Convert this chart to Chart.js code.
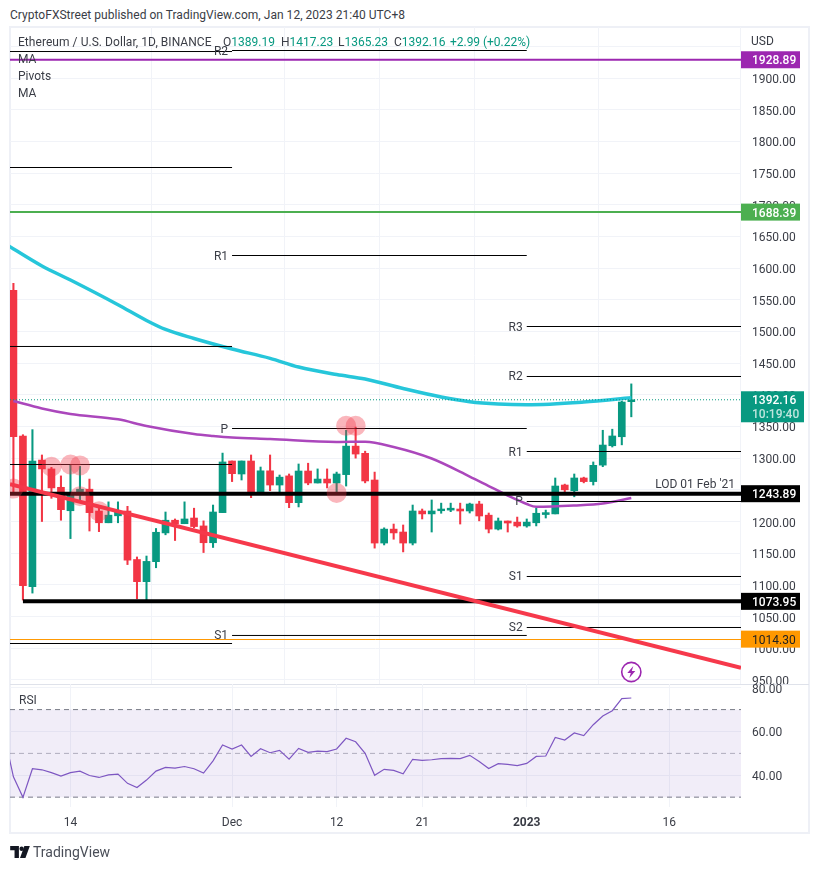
<!DOCTYPE html>
<html>
<head>
<meta charset="utf-8">
<title>ETH/USD</title>
<script src="https://cdn.jsdelivr.net/npm/chart.js@4/dist/chart.umd.js"></script>
<style>
  body { margin: 0; background: #fff; font-family: Roboto, sans-serif; color: #333; width: 819px; height: 870px; overflow: hidden; }
  canvas { position: absolute; left: 10px; }
  #priceChart { top: 27px; }
  #rsiChart { top: 670px; }
  #frame { position: absolute; left: 9px; top: 26px; width: 801px; height: 808px; box-sizing: border-box; border: 2px solid #eef0f6; }
  #paneSep { position: absolute; left: 10px; top: 684px; width: 799px; height: 1px; background: #dfe2ea; }
  .txt { position: absolute; white-space: pre; font-size: 12px; line-height: 14px; color: #3a3d46; }
  .up { color: #089981; }
</style>
</head>
<body>
<div id="frame"></div>
<canvas id="priceChart" width="800" height="673"></canvas>
<div id="paneSep"></div>
<canvas id="rsiChart" width="800" height="164"></canvas>

<div class="txt" style="left:10px;top:8px;letter-spacing:0.03px;">CryptoFXStreet published on TradingView.com, Jan 12, 2023 21:40 UTC+8</div>
<div class="txt" style="left:18px;top:35px;letter-spacing:0.05px;">Ethereum / U.S. Dollar, 1D, BINANCE</div>
<div class="txt" style="left:223px;top:35px;">O<span class="up">1389.19</span></div>
<div class="txt" style="left:281px;top:35px;">H<span class="up">1417.23</span></div>
<div class="txt" style="left:338px;top:35px;">L<span class="up">1365.23</span></div>
<div class="txt" style="left:394px;top:35px;">C<span class="up">1392.16</span></div>
<div class="txt up" style="left:450px;top:35px;letter-spacing:-0.03px;">+2.99 (+0.22%)</div>
<div class="txt" style="left:18px;top:52px;">MA</div>
<div class="txt" style="left:18px;top:69px;">Pivots</div>
<div class="txt" style="left:18px;top:86px;">MA</div>
<div class="txt" style="left:19px;top:693px;">RSI</div>
<div class="txt" style="left:751px;top:34px;">USD</div>
<svg style="position:absolute;left:10px;top:846px;" width="20" height="12" viewBox="0 0 36 22">
  <path fill="#131722" d="M0 0h16v22H8V8H0zM18 22l8-22h10l-8 22z"/>
  <circle fill="#131722" cx="21" cy="5" r="4"/>
</svg>
<div class="txt" style="left:33px;top:845px;font-size:14px;color:#4a4e58;">TradingView</div>

<script>
// Day numbers count from 8 Nov 2022 = 0
const opens  = [1565,1335,1097,1297,1283,1254,1217,1242,1251,1216.5,1198,1209,1216.5,1140,1105,1136.6,1182,1202,1196.5,1205.5,1193,1166.5,1214,1295.5,1275,1295.5,1244.5,1280,1257.6,1272,1229.7,1279.7,1260.8,1267,1260.8,1274,1319,1307.6,1265.5,1166,1188,1183.4,1166,1216.6,1212,1217,1218,1219.7,1216.6,1227.6,1210,1188,1200.8,1199,1193,1198,1211,1212,1257.6,1248.6,1268.7,1263,1289,1319.6,1333.8,1389.19];
const highs  = [1576,1337,1345,1305,1285.5,1272,1289,1287,1267,1221,1231,1231,1224,1144,1145.5,1189,1215,1204,1231,1221,1201,1226,1308,1295.5,1295.5,1305,1286,1305,1273.4,1275,1290.8,1292,1283,1283,1278,1344,1349,1311,1278,1190,1196,1194.5,1226,1219.7,1234,1229,1229,1229,1229,1232,1213.4,1205.5,1200.8,1207,1204,1221,1218,1268.7,1259,1275,1270,1294,1344,1345.7,1390,1417.23];
const lows   = [1245,1076,1087,1200,1236.6,1202,1173,1234,1185,1184,1198,1198,1132,1078,1076,1127,1179,1170,1196.5,1190,1151,1159,1214,1263,1265.5,1237.6,1244.5,1248.6,1245.5,1221.8,1223,1258,1260.8,1253,1244.5,1256,1300,1261,1158,1163,1172,1152,1163,1204,1183.4,1213,1215.5,1196,1213.4,1201,1182,1186.6,1183.4,1191,1191,1193,1205.5,1212,1245,1239,1261,1257.6,1286.5,1317.6,1321,1365.23];
const closes = [1333.8,1098.7,1295.5,1283,1253,1218.7,1242,1251,1214,1198,1210,1216,1139,1105,1137,1183,1202,1196,1204,1192,1166.5,1215,1294,1275.5,1295.5,1244.5,1280,1257.6,1270,1229.7,1279.7,1260.8,1267,1260.8,1275,1319,1306.5,1264,1166,1188,1182,1166,1216.6,1212,1216.6,1219.7,1221,1216.6,1227.6,1208.7,1188,1200.8,1197.6,1193,1199,1213,1214,1256,1250,1268.7,1263,1288.7,1320.7,1335,1388.6,1392.16];

const rsiDays = [-1,0,1,2,3,4,5,6,7,8,9,10,11,12,13,14,15,16,17,18,19,20,21,22,23,24,25,26,27,28,29,30,31,32,33,34,35,36,37,38,39,40,41,42,43,44,45,46,47,48,49,50,51,52,53,54,55,56,57,58,59,60,61,62,63,64,65];
const rsiValues = [59,39.3,29.9,43,42.5,41.2,39.6,41.2,41.9,39.9,39,40.2,40.5,36.3,34.4,37.8,41.9,43.6,43.3,44,43,41,46.6,53.8,52,53.8,48.6,52.1,50.3,51.4,47.4,52.3,50.5,51,50.8,52,56.9,55.3,50,40,42.7,42.2,40.7,47.3,46.8,47.1,47.6,47.7,47.6,49.1,46.3,43.1,45.3,45,44.4,45.4,48.6,48.8,57.3,56.1,59.3,58.1,63.1,67.1,69.5,75,75.3];

const tealMaDays = [-1,3,6,11,14,16,19,23,27,30,34,37,41,45,48,51,54,60,65];
const tealMaValues = [1639.6,1603.3,1581.2,1542.2,1517.3,1503.1,1488.9,1472.3,1457.6,1443.9,1432,1424.9,1409.9,1396.5,1389.1,1385.5,1384.4,1388.6,1395.4];
const purpleMaDays = [0,3,6,11,14,19,21,23,27,34,37,40,44,48,50,52,54,55,59,62,65];
const purpleMaValues = [1390.2,1378.4,1369.7,1361.3,1350.8,1338.1,1335,1332.6,1330.2,1325.5,1326,1317.6,1299.4,1271,1256,1241,1227.6,1223.2,1225.3,1228.4,1237.1];

// Pivots, one group per month
const novPivots = [1941.9,1758.8,1476.3,1290,1007.4];
const decPivots = [1943.5,1619.9,1346.8,1020.1];
const decPivotLabels = ['R2','R1','P','S1'];
const janPivots = [1507.8,1428.9,1310.5,1231.6,1113.2,1032.7];
const janPivotLabels = ['R3','R2','R1','P','S1','S2'];
const decStart = 23;
const janStart = 54;

// Trend line and the circled touches
const trendDays = [-0.36,76.54];
const trendValues = [1259,969];
const touchDays = [0,4,6,7,7,9,34,35,36];
const touchValues = [1252,1286.5,1290,1288.5,1240,1216,1245,1351,1351];

const priceTicks = [950,1000,1050,1100,1150,1200,1250,1300,1350,1400,1450,1500,1550,1600,1650,1700,1750,1800,1850,1900,1950];
const rsiTicks = [40,60,80];
const xTickDays = [6,23,34,43,54,69];
const xTickLabels = ['14','Dec','12','21','2023','16'];

const dayMin = -0.36, dayMax = 76.54;
const supportDay = 1;
const lastDay = 65;
const green = '#089981', red = '#f23645', gridColor = '#f1f3f8', textColor = '#3a3d46';

function series(days, values) {
  return days.map((d, i) => ({ x: d, y: values[i] }));
}
function level(price, from, to) {
  return [{ x: from, y: price }, { x: to, y: price }];
}
function lineSet(data, color, width, order, extra) {
  return Object.assign({ type: 'line', data: data, borderColor: color, borderWidth: width, pointRadius: 0, order: order }, extra || {});
}

// Tick labels make Chart.js shrink the plot, this keeps each pane at its set height
function pinArea(top, bottom) {
  return {
    id: 'pinArea',
    afterLayout(chart) {
      const ys = chart.scales.y, xs = chart.scales.x, area = chart.chartArea;
      ys.top = top; ys.bottom = bottom; ys.height = bottom - top;
      ys.configure();
      xs.top = bottom;
      area.top = top; area.bottom = bottom; area.height = bottom - top;
    }
  };
}

const candleColors = opens.map((o, i) => closes[i] >= o ? green : red);

const priceSets = [
  { type: 'bar', data: opens.map((o, i) => ({ x: i, y: [lows[i], highs[i]] })), backgroundColor: candleColors, barThickness: 1.4, grouped: false, order: 90 },
  { type: 'bar', data: opens.map((o, i) => ({ x: i, y: [o, closes[i]] })), backgroundColor: candleColors, barThickness: 7, grouped: false, order: 80 },
  lineSet(series(purpleMaDays, purpleMaValues), '#ab47bc', 2.5, 70, { cubicInterpolationMode: 'monotone' }),
  lineSet(series(tealMaDays, tealMaValues), '#26c6da', 3.5, 70, { cubicInterpolationMode: 'monotone' }),
  lineSet(level(1392.16, dayMin, dayMax), green, 1, 65, { borderDash: [1, 2] }),
  lineSet(level(1013.7, dayMin, dayMax), '#ff9800', 1, 62),
  lineSet(level(1928.89, dayMin, dayMax), '#9c27b0', 2, 50),
  lineSet(level(1688.39, dayMin, dayMax), '#4caf50', 2, 50),
  lineSet(level(1243.89, dayMin, dayMax), '#000', 4, 45),
  lineSet(level(1073.95, supportDay, dayMax), '#000', 4, 45),
  lineSet(series(trendDays, trendValues), '#f6394b', 4, 44),
  { type: 'scatter', data: series(touchDays, touchValues), backgroundColor: 'rgba(242,54,69,0.36)', borderWidth: 0, pointRadius: 10, order: 40 }
];
novPivots.forEach(v => priceSets.push(lineSet(level(v, dayMin, decStart), '#000', 1, 60)));
decPivots.forEach(v => priceSets.push(lineSet(level(v, decStart, janStart), '#000', 1, 60)));
janPivots.forEach(v => priceSets.push(lineSet(level(v, janStart, dayMax), '#000', 1, 60)));

// Price tags on the axis, pivot names and the other bits on top of the marks
const priceOverlay = {
  id: 'priceOverlay',
  afterDraw(chart) {
    const ctx = chart.ctx, xs = chart.scales.x, ys = chart.scales.y;
    ctx.save();
    ctx.textBaseline = 'middle';

    ctx.font = '12px Roboto, sans-serif';
    ctx.fillStyle = textColor;
    ctx.textAlign = 'right';
    decPivots.forEach((v, i) => ctx.fillText(decPivotLabels[i], xs.getPixelForValue(decStart) - 4, ys.getPixelForValue(v) + 1));
    janPivots.forEach((v, i) => ctx.fillText(janPivotLabels[i], xs.getPixelForValue(janStart) - 4, ys.getPixelForValue(v) + 1));
    ctx.fillText("LOD 01 Feb '21", xs.right - 6, ys.getPixelForValue(1243.89) - 9);

    function tag(price, text, bg, fg, weight) {
      const y = ys.getPixelForValue(price);
      ctx.fillStyle = bg;
      ctx.fillRect(xs.right, y - 8.5, 59, 17);
      ctx.fillStyle = fg;
      ctx.textAlign = 'left';
      ctx.font = weight + ' 12px Roboto, sans-serif';
      ctx.fillText(text, xs.right + 11, y + 1.5);
    }
    tag(1928.89, '1928.89', '#9c27b0', '#fff', 500);
    tag(1688.39, '1688.39', '#4caf50', '#fff', 500);
    tag(1243.89, '1243.89', '#000', '#fff', 500);
    tag(1073.95, '1073.95', '#000', '#fff', 500);
    tag(1014.30, '1014.30', '#ff9800', '#222', 400);

    // last price tag has the countdown under it
    const lastY = ys.getPixelForValue(1392.16);
    ctx.fillStyle = green;
    ctx.fillRect(xs.right, lastY - 8.5, 63, 31);
    ctx.fillStyle = '#fff';
    ctx.font = '500 12px Roboto, sans-serif';
    ctx.fillText('1392.16', xs.right + 11, lastY + 1.5);
    ctx.fillStyle = '#bfe5dd';
    ctx.fillText('10:19:40', xs.right + 11, lastY + 15.5);

    // lightning mark above the last candle
    const bx = xs.getPixelForValue(lastDay), by = ys.getPixelForValue(962.4);
    ctx.strokeStyle = '#9c27b0';
    ctx.lineWidth = 1.6;
    ctx.beginPath();
    ctx.arc(bx, by, 9.6, 0, Math.PI * 2);
    ctx.stroke();
    ctx.fillStyle = '#9c27b0';
    ctx.beginPath();
    [[2, -6], [-4, 1], [-0.5, 1], [-2, 6], [4, -1], [0.5, -1]].forEach((p, i) => {
      if (i === 0) ctx.moveTo(bx + p[0], by + p[1]);
      else ctx.lineTo(bx + p[0], by + p[1]);
    });
    ctx.closePath();
    ctx.fill();
    ctx.restore();
  }
};

function xScale(showLabels) {
  return {
    type: 'linear', min: dayMin, max: dayMax, offset: false,
    afterBuildTicks: s => { s.ticks = xTickDays.map(d => ({ value: d })); },
    afterFit: s => { s.height = showLabels ? 27 : 0; },
    grid: { color: gridColor, drawTicks: false },
    border: { display: false },
    ticks: {
      display: showLabels, autoSkip: false, maxRotation: 0, padding: 9, color: textColor,
      font: ctx => ({ family: 'Roboto, sans-serif', size: 12, weight: ctx.tick && ctx.tick.value === 54 ? 'bold' : 'normal' }),
      callback: v => xTickLabels[xTickDays.indexOf(v)]
    }
  };
}
// The empty first line with a small line height moves axis labels down 2px onto their grid line
function yScale(min, max, tickValues, label) {
  return {
    position: 'right', min: min, max: max,
    afterBuildTicks: s => { s.ticks = tickValues.map(v => ({ value: v })); },
    afterFit: s => { s.width = 69; },
    grid: { color: gridColor, drawTicks: false },
    border: { display: false },
    ticks: {
      autoSkip: false, padding: 11, color: textColor,
      font: { family: 'Roboto, sans-serif', size: 12, lineHeight: '4px' },
      callback: v => ['', label(v)]
    }
  };
}

new Chart(document.getElementById('priceChart'), {
  type: 'line',
  data: { datasets: priceSets },
  plugins: [pinArea(0, 657), priceOverlay],
  options: {
    responsive: false, animation: false, events: [],
    layout: { autoPadding: false },
    plugins: { legend: { display: false }, tooltip: { enabled: false } },
    scales: {
      x: xScale(false),
      y: yScale(943.49, 1980.6, priceTicks, v => v === 1950 ? '' : v.toFixed(2))
    }
  }
});

new Chart(document.getElementById('rsiChart'), {
  type: 'line',
  data: {
    datasets: [
      lineSet(level(70, dayMin, dayMax), '#787b86', 1, 30, { borderDash: [5, 4], fill: { target: '+1' }, backgroundColor: 'rgba(126,87,194,0.11)' }),
      lineSet(level(30, dayMin, dayMax), '#787b86', 1, 30, { borderDash: [5, 4] }),
      lineSet(level(50, dayMin, dayMax), 'rgba(120,123,134,0.55)', 1, 30, { borderDash: [5, 4] }),
      lineSet(series(rsiDays, rsiValues), '#7e57c2', 1.2, 10)
    ]
  },
  plugins: [pinArea(14, 137)],
  options: {
    responsive: false, animation: false, events: [],
    layout: { autoPadding: false },
    plugins: { legend: { display: false }, tooltip: { enabled: false } },
    scales: {
      x: xScale(true),
      y: yScale(25.5, 81.7, rsiTicks, v => v.toFixed(2))
    }
  }
});
</script>
</body>
</html>
